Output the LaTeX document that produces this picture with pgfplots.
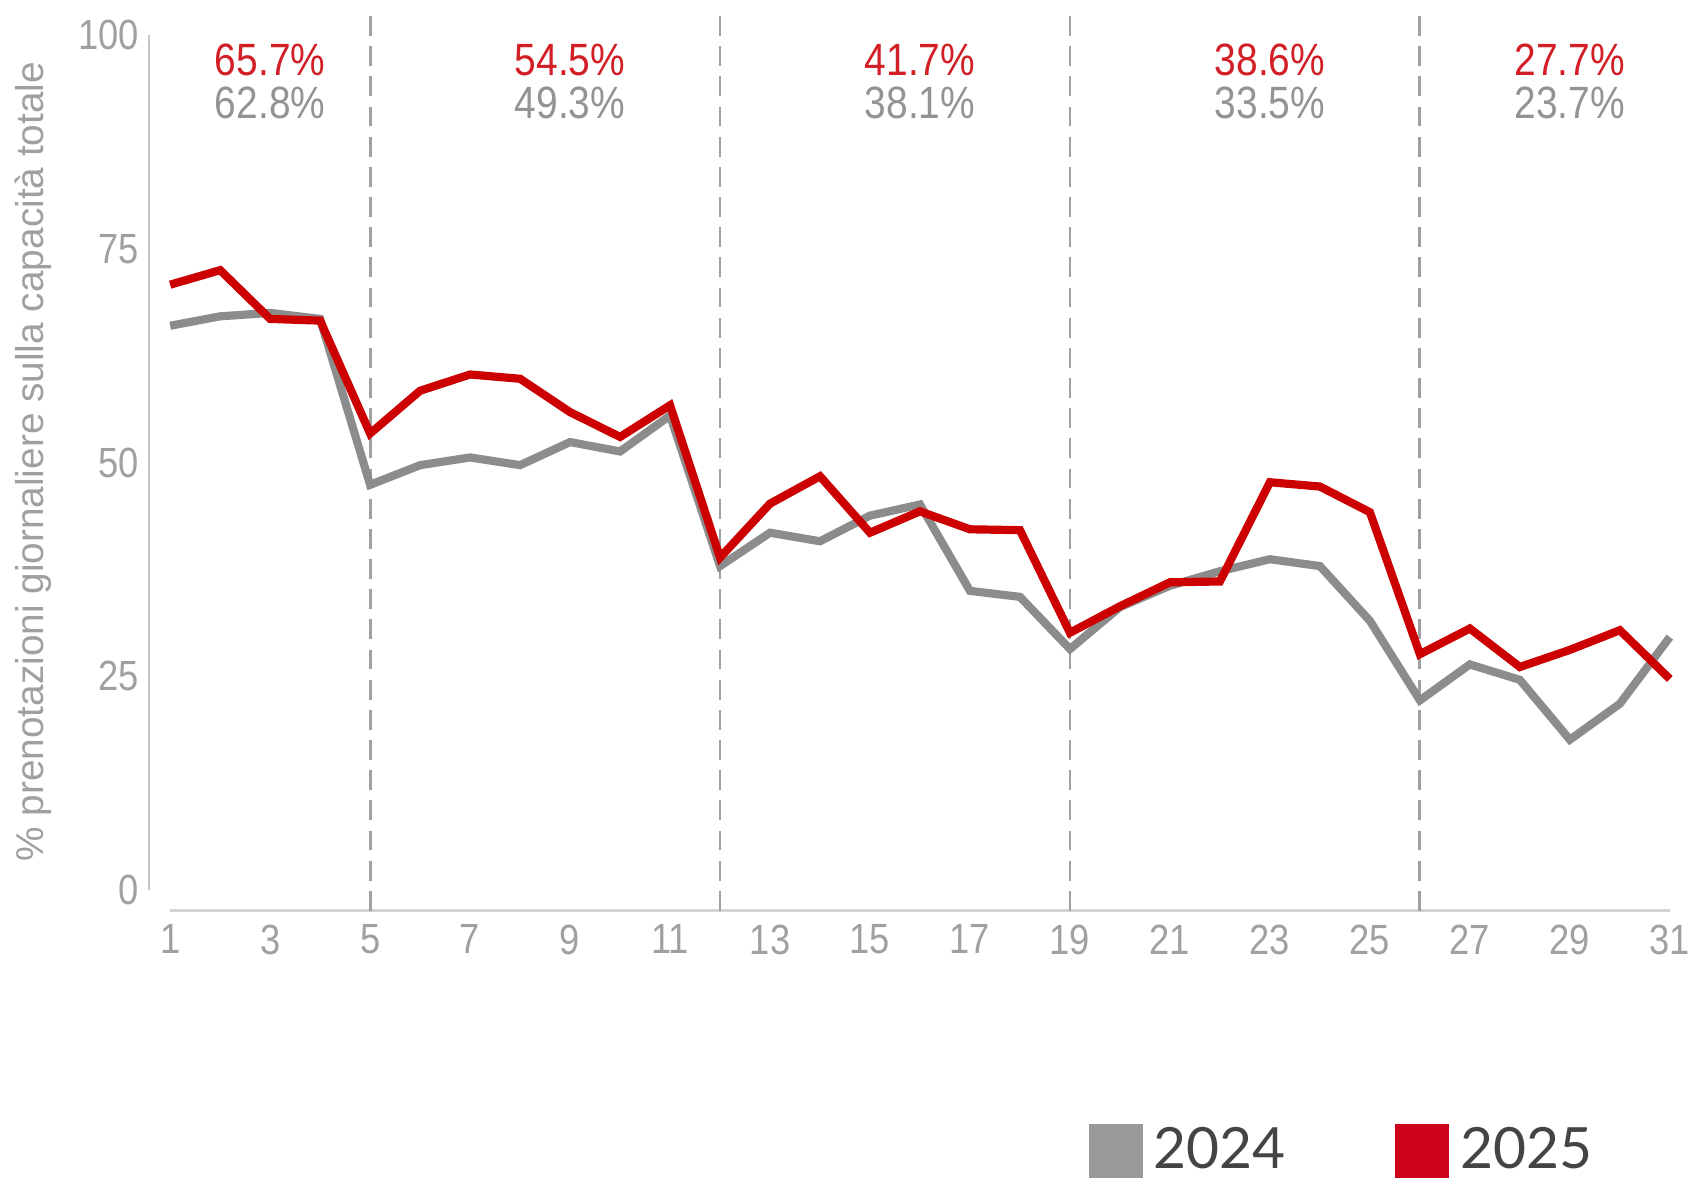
\documentclass[border=0pt]{standalone}
\usepackage{fontspec}
\setmainfont{Liberation Sans}
\newfontfamily\narrowfont{Liberation Sans}[FakeStretch=0.86]
\newfontfamily\legendfont{Lato}
\usepackage{pgfplots}
\pgfplotsset{compat=1.18}

\definecolor{line24}{HTML}{8C8C8C}
\definecolor{line25}{HTML}{CC0000}
\definecolor{txt25}{HTML}{D21F26}
\definecolor{txt24}{HTML}{939393}
\definecolor{ticktxt}{HTML}{A0A0A0}
\definecolor{sq24}{HTML}{999999}
\definecolor{sq25}{HTML}{D0021B}
\definecolor{legtxt}{HTML}{444444}

\begin{document}
\begin{tikzpicture}
\begin{axis}[
    scale only axis,
    width=353pt, height=207.6pt,
    xmin=0.57, xmax=31, ymin=-2.4, ymax=102.2,
    clip=false,
    axis line style={draw=none},
    major tick length=0pt,
    xtick={1,3,...,31},
    ytick={0,25,50,75,100},
    /pgf/number format/assume math mode=true,
    ticklabel style={font=\narrowfont\fontsize{9.8}{11}\selectfont, text=ticktxt, inner sep=0pt},
    xticklabel style={yshift=-3pt},
    yticklabel style={xshift=-2pt},
    ylabel={\% prenotazioni giornaliere sulla capacità totale},
    ylabel style={at={(rel axis cs:0,0.5019)}, anchor=center, yshift=26.75pt,
        font=\fontsize{9}{11}\selectfont, text=ticktxt},
    legend columns=2,
    legend style={at={(rel axis cs:0.6176,-0.2685)}, anchor=west, draw=none, fill=none,
        inner sep=0pt, font=\legendfont\fontsize{13.2}{15}\selectfont, text=legtxt,
        nodes={inner sep=0pt},
        /tikz/every odd column/.append style={column sep=2.5pt},
        /tikz/every even column/.append style={column sep=25.5pt}},
    legend image code/.code={\path[#1, draw=none] (0pt,-6.25pt) rectangle (12.5pt,6.25pt);},
]
% axis lines and separators
\draw[color=ticktxt!60, line width=0.4pt] (axis cs:0.57,0) -- (axis cs:0.57,100);
\draw[color=ticktxt!45, line width=0.6pt] (axis cs:1,-2.4) -- (axis cs:31,-2.4);
\draw[color=ticktxt, line width=0.65pt, dash pattern=on 4.6pt off 2.4pt]
    (axis cs:5,-2.4) -- (axis cs:5,102.2)
    (axis cs:12,-2.4) -- (axis cs:12,102.2)
    (axis cs:19,-2.4) -- (axis cs:19,102.2)
    (axis cs:26,-2.4) -- (axis cs:26,102.2);

\addlegendimage{fill=sq24, draw=none}
\addlegendentry{2024}
\addlegendimage{fill=sq25, draw=none}
\addlegendentry{2025}

% 2024
\addplot[color=line24, line width=1.9pt, forget plot] coordinates {
(1,66.0) (2,67.1) (3,67.5) (4,66.8) (5,47.4) (6,49.7) (7,50.6) (8,49.7)
(9,52.4) (10,51.3) (11,55.5) (12,37.9) (13,41.8) (14,40.8) (15,43.8) (16,45.1)
(17,35.0) (18,34.3) (19,28.2) (20,33.1) (21,35.6) (22,37.3) (23,38.7) (24,37.9)
(25,31.5) (26,22.2) (27,26.4) (28,24.6) (29,17.6) (30,21.8) (31,29.6)};
% 2025
\addplot[color=line25, line width=1.9pt, forget plot] coordinates {
(1,70.8) (2,72.5) (3,66.8) (4,66.6) (5,53.4) (6,58.4) (7,60.3) (8,59.8)
(9,55.9) (10,53.0) (11,56.7) (12,38.9) (13,45.2) (14,48.4) (15,41.8) (16,44.3)
(17,42.2) (18,42.1) (19,30.1) (20,33.2) (21,36.0) (22,36.1) (23,47.7) (24,47.2)
(25,44.2) (26,27.6) (27,30.6) (28,26.1) (29,28.1) (30,30.4) (31,24.7)};

% period averages
\begin{scope}[every node/.style={font=\narrowfont\fontsize{10.5}{12}\selectfont, inner sep=0pt, anchor=center}]
\node[text=txt25] at (axis cs:3,97.1) {65.7\%};
\node[text=txt24] at (axis cs:3,92.1) {62.8\%};
\node[text=txt25] at (axis cs:9,97.1) {54.5\%};
\node[text=txt24] at (axis cs:9,92.1) {49.3\%};
\node[text=txt25] at (axis cs:16,97.1) {41.7\%};
\node[text=txt24] at (axis cs:16,92.1) {38.1\%};
\node[text=txt25] at (axis cs:23,97.1) {38.6\%};
\node[text=txt24] at (axis cs:23,92.1) {33.5\%};
\node[text=txt25] at (axis cs:29,97.1) {27.7\%};
\node[text=txt24] at (axis cs:29,92.1) {23.7\%};
\end{scope}

\coordinate (bl) at (rel axis cs:0,0);
\coordinate (tr) at (rel axis cs:1,1);
\end{axis}
\path ([shift={(-34.5pt,-64pt)}]bl) rectangle ([shift={(4.5pt,3.75pt)}]tr);
\end{tikzpicture}
\end{document}
